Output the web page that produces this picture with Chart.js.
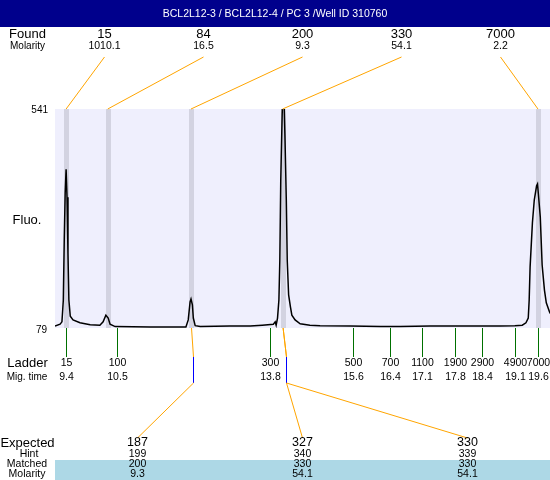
<!DOCTYPE html>
<html><head><meta charset="utf-8">
<script src="https://cdn.jsdelivr.net/npm/chart.js@4/dist/chart.umd.min.js"></script>
<style>html,body{margin:0;background:#fff}</style>
</head><body>
<canvas id="c" width="550" height="480"></canvas>
<script>
// electropherogram: trace + found peaks, ladder and expected/matched table
const TITLE = 'BCL2L12-3 / BCL2L12-4 / PC 3 /Well ID 310760';
const Y_MIN = 79, Y_MAX = 541;
const X_MIN = 9.16, X_MAX = 19.86;

const foundSize = ['15', '84', '200', '330', '7000'];
const foundMolarity = ['1010.1', '16.5', '9.3', '54.1', '2.2'];
const foundTime = [9.40, 10.30, 12.10, 14.08, 19.60];

const ladderSize = ['15', '100', '300', '500', '700', '1100', '1900', '2900', '4900', '7000'];
const ladderTime = [9.4, 10.5, 13.8, 15.6, 16.4, 17.1, 17.8, 18.4, 19.1, 19.6];

const expectedSize = ['187', '327', '330'];
const hintSize = ['199', '340', '339'];
const matchedSize = ['200', '330', '330'];
const matchedMolarity = ['9.3', '54.1', '54.1'];
const matchedFound = [2, 3, 3];          // index into found peaks
const matchedTime = [12.14, 14.15, 14.15];

const traceTime = [9.16, 9.27, 9.31, 9.34, 9.36, 9.38, 9.40, 9.42, 9.44, 9.46, 9.49, 9.55, 9.70, 9.92, 10.13,
  10.20, 10.26, 10.31, 10.35, 10.46, 11.22, 11.99, 12.04, 12.08, 12.10, 12.13, 12.15, 12.19, 12.30, 12.94,
  13.38, 13.64, 13.88, 13.92, 13.94, 13.97, 14.00, 14.02, 14.04, 14.07, 14.09, 14.11, 14.13, 14.16, 14.18,
  14.21, 14.25, 14.28, 14.35, 14.46, 14.67, 14.89, 15.54, 16.19, 16.62, 17.27, 18.35, 18.78, 19.10, 19.26,
  19.34, 19.39, 19.41, 19.43, 19.48, 19.52, 19.57, 19.59, 19.61, 19.65, 19.69, 19.74, 19.78, 19.85, 19.87];
const traceFluo = [83, 87, 92, 138, 265, 364, 414, 355, 237, 138, 104, 96, 90, 86, 85,
  92, 106, 100, 87, 82, 81, 81, 96, 134, 140, 128, 100, 84, 82, 83,
  83, 85, 87, 92, 85, 100, 138, 222, 391, 528, 592, 560, 486, 349, 222,
  149, 123, 106, 96, 88, 85, 84, 83, 82, 82, 83, 83, 83, 84, 85,
  90, 100, 138, 208, 301, 349, 379, 383, 360, 313, 212, 159, 132, 113, 109];

const FONT = '"Liberation Sans", Arial, sans-serif';
const ORANGE = '#FFA500', GREEN = '#007000', BLUE = '#0000FF';

function txt(ctx, s, x, y, size, align, color) {
  ctx.font = size + 'px ' + FONT;
  ctx.textAlign = align || 'center';
  ctx.textBaseline = 'middle';
  ctx.fillStyle = color || '#000';
  ctx.fillText(s, x, y);
}
function seg(ctx, x1, y1, x2, y2, color) {
  ctx.strokeStyle = color;
  ctx.lineWidth = 1;
  ctx.beginPath(); ctx.moveTo(x1, y1); ctx.lineTo(x2, y2); ctx.stroke();
}

const deco = {
  id: 'deco',
  beforeDraw(chart) {
    const { ctx, chartArea: a, width } = chart;
    ctx.save();
    ctx.fillStyle = '#fff'; ctx.fillRect(0, 0, width, chart.height);
    ctx.fillStyle = '#00008C'; ctx.fillRect(0, 0, width, 27);
    ctx.fillStyle = '#EFEFFD'; ctx.fillRect(a.left, a.top, a.right - a.left, a.bottom - a.top);
    ctx.fillStyle = '#ADD8E6'; ctx.fillRect(a.left, 460, a.right - a.left, 20);
    ctx.restore();
  },
  beforeDatasetsDraw(chart) {
    const { ctx, chartArea: a, scales: { x } } = chart;
    ctx.save();
    ctx.fillStyle = '#D3D3E1';
    foundTime.forEach(t => ctx.fillRect(Math.round(x.getPixelForValue(t)) - 2, a.top, 5, a.bottom - a.top));
    ctx.restore();
  },
  afterDraw(chart) {
    const { ctx, chartArea: a, scales: { x } } = chart;
    const w = a.right - a.left;
    ctx.save();
    txt(ctx, TITLE, 275, 14.5, 10.5, 'center', '#fff');

    // found peaks row
    txt(ctx, 'Found', 27.5, 34, 13);
    txt(ctx, 'Molarity', 27.5, 46, 10);
    foundSize.forEach((s, i) => {
      const sx = a.left + (i + 0.5) * w / foundSize.length;
      txt(ctx, s, sx, 34, 13);
      txt(ctx, foundMolarity[i], sx, 46, 10.5);
      seg(ctx, sx, 57, x.getPixelForValue(foundTime[i]), a.top, ORANGE);
    });

    // y labels
    txt(ctx, String(Y_MAX), 48, a.top + 1, 10, 'right');
    txt(ctx, String(Y_MIN), 47, a.bottom + 2, 10, 'right');
    txt(ctx, 'Fluo.', 27, 220, 13);

    // ladder
    txt(ctx, 'Ladder', 27.5, 363, 13);
    txt(ctx, 'Mig. time', 27, 377, 10);
    ladderTime.forEach((t, i) => {
      const lx = Math.round(x.getPixelForValue(t)) + 0.5;
      seg(ctx, lx, a.bottom, lx, 357, GREEN);
      txt(ctx, ladderSize[i], lx, 363, 10.5);
      txt(ctx, t.toFixed(1), lx, 377, 10.5);
    });

    // matched connectors
    matchedTime.forEach((t, i) => {
      const fx = x.getPixelForValue(foundTime[matchedFound[i]]) + 0.5;
      const bx = Math.round(x.getPixelForValue(t)) + 0.5;
      seg(ctx, fx, a.bottom, bx, 357, ORANGE);
      seg(ctx, bx, 357, bx, 383, BLUE);
      const ex = a.left + (i + 0.5) * w / expectedSize.length;
      seg(ctx, bx, 383, ex, 438, ORANGE);
    });

    // expected table
    txt(ctx, 'Expected', 27.5, 443, 13);
    txt(ctx, 'Hint', 29, 454, 10.5);
    txt(ctx, 'Matched', 27, 464.5, 10.5);
    txt(ctx, 'Molarity', 27, 474.5, 10.5);
    expectedSize.forEach((s, i) => {
      const ex = a.left + (i + 0.5) * w / expectedSize.length;
      txt(ctx, s, ex, 443, 12.5);
      txt(ctx, hintSize[i], ex, 454, 10.5);
      txt(ctx, matchedSize[i], ex, 464.5, 10.5);
      txt(ctx, matchedMolarity[i], ex, 474.5, 10.5);
    });
    ctx.restore();
  }
};

new Chart(document.getElementById('c'), {
  type: 'line',
  data: { datasets: [{
    data: traceTime.map((t, i) => ({ x: t, y: traceFluo[i] })),
    borderColor: '#000', borderWidth: 1.5, pointRadius: 0, tension: 0 }] },
  options: {
    responsive: false, animation: false, devicePixelRatio: 1,
    layout: { padding: { left: 55, right: 0, top: 109, bottom: 152 } },
    plugins: { legend: { display: false }, tooltip: { enabled: false } },
    scales: {
      x: { type: 'linear', min: X_MIN, max: X_MAX, display: false },
      y: { min: Y_MIN, max: Y_MAX, display: false },
    },
  },
  plugins: [deco],
});
</script>
</body></html>
